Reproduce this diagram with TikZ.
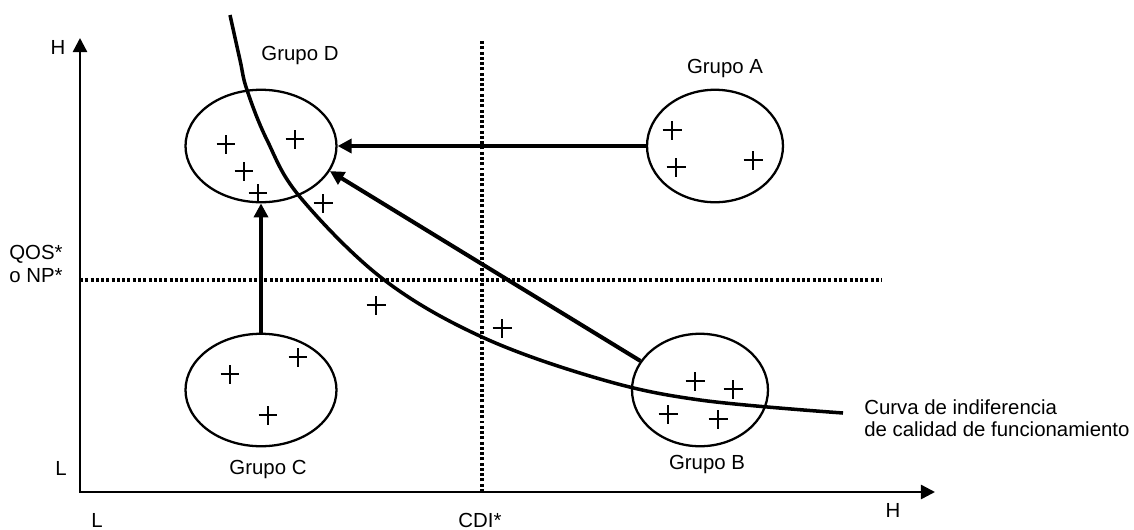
\documentclass[tikz,border=0pt]{standalone}
\usepackage{fontspec}
\setmainfont{Liberation Sans}
\usepackage{tikz}
\usetikzlibrary{arrows.meta, positioning, shapes.geometric}

\begin{document}
\begin{tikzpicture}[x=0.02cm, y=-0.02cm,
	every node/.style={font=\fontsize{11.6}{12.6}\selectfont, inner sep=0pt},
	grp/.style={draw, ellipse, line width=1.3pt, minimum width=3.02cm, minimum height=2.25cm},
	grpnarrow/.style={grp, minimum width=2.72cm},
	move/.style={line width=2.3pt, -{Triangle[length=8pt, width=8pt]}},
	axis/.style={line width=1.4pt, {Triangle[length=8pt, width=8pt]}-{Triangle[length=8pt, width=8pt]}},
	guide/.style={line width=2pt, dash pattern=on 1.7pt off 1.3pt},
	indiff/.style={line width=2pt},
	pt/.pic={\draw[line width=1pt] (-0.19cm,0) -- (0.19cm,0) (0,-0.19cm) -- (0,0.19cm);}]
				% Frame, axes and guides:
				\useasboundingbox (0,0) rectangle (1134,529);
				\coordinate (O) at (80,492);
				\coordinate (ytop) at (80,38);
				\coordinate (xend) at (935,492);
				\coordinate (cdi) at (482,492);
				\coordinate (cditop) at (482,39);
				\coordinate (qos) at (80,280);
				\coordinate (qosend) at (882,280);
				\draw[guide] (cdi) -- (cditop);
				\draw[guide] (qos) -- (qosend);
				\draw[axis] (ytop) -- (O) -- (xend);
				\node (Hy) at (58,47){H};
				\node (Hx) at (893,510){H};
				\node (Ly) at (61,468){L};
				\node (Lx) at (97,520){L};
				\node (CDI) at (480,520){CDI*};
				\node[align=left, anchor=west] (QOS) at (9,264){QOS*\\o NP*};
				% Groups:
				\node[grp](D) at (261,146){};
				\node[grpnarrow](A) at (715,146){};
				\node[grp](C) at (261,390){};
				\node[grpnarrow](B) at (700,390){};
				\node (lD) at (300,55){Grupo D};
				\node (lA) at (725,68){Grupo A};
				\node (lC) at (268,469){Grupo C};
				\node (lB) at (707,464){Grupo B};
				\pic (d1) at (226,144){pt};
				\pic (d2) at (295,139){pt};
				\pic (d3) at (244,171){pt};
				\pic (d4) at (258,193){pt};
				\pic (d5) at (323,203){pt};
				\pic (a1) at (672,130){pt};
				\pic (a2) at (676,167){pt};
				\pic (a3) at (753,160){pt};
				\pic (c1) at (230,374){pt};
				\pic (c2) at (298,357){pt};
				\pic (c3) at (268,415){pt};
				\pic (b1) at (695,381){pt};
				\pic (b2) at (733,389){pt};
				\pic (b3) at (668,414){pt};
				\pic (b4) at (718,419){pt};
				\pic (m1) at (376,305){pt};
				\pic (m2) at (502,328){pt};
				% Moves:
				\draw[move] (A) -- (D);
				\draw[move] (C) -- (D);
				\draw[move] (B.154) -- (D.-20);
				% Indifference curve:
				\draw[indiff] plot[smooth, tension=0.6] coordinates {(230,15) (240,60) (247,90) (267,140) (300,197) (383,279) (482,337) (600,379) (700,400) (843,413)};
				\node[align=left, anchor=west] (curva) at (864,418){Curva de indiferencia\\de calidad de funcionamiento};
			\end{tikzpicture}
\end{document}
